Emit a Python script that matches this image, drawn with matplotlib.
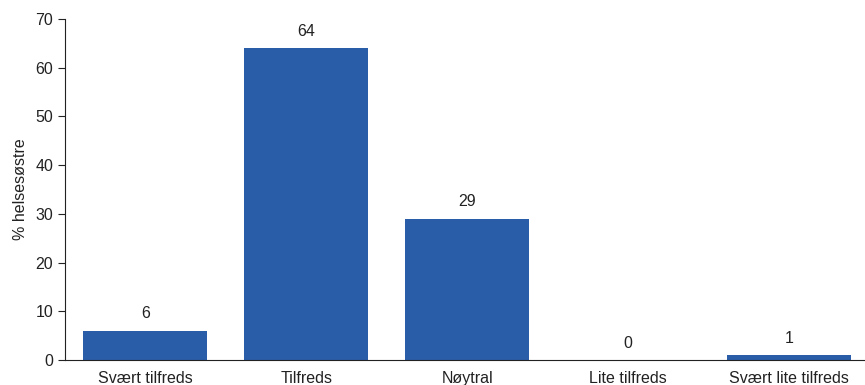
import matplotlib.pyplot as plt

plt.rcParams['font.family'] = ['Liberation Sans', 'DejaVu Sans']

categories = ["Svært tilfreds", "Tilfreds", "Nøytral", "Lite tilfreds", "Svært lite tilfreds"]
values = [6, 64, 29, 0, 1]

fig = plt.figure(figsize=(8.65, 3.85), dpi=100)
ax = fig.add_axes([0.075, 0.065, 0.93, 0.886])

x = range(len(categories))
bars = ax.bar(x, values, width=0.77, color="#2A5DA8")

for b, v in zip(bars, values):
    ax.text(b.get_x() + b.get_width() / 2, v + 1.9, str(v),
            ha="center", va="bottom", fontsize=11.5, color="#222222")

ax.set_xlim(-0.5, 4.5)
ax.set_ylim(0, 70)
ax.set_yticks(range(0, 71, 10))
ax.set_xticks(list(x))
ax.set_xticklabels(categories, fontsize=11.5)
ax.tick_params(axis="y", labelsize=11.5, length=5, direction="out", colors="#222222")
ax.tick_params(axis="x", length=0, pad=8, colors="#222222")
ax.set_ylabel("% helsesøstre", fontsize=11.5, color="#222222", labelpad=5)

ax.spines["top"].set_visible(False)
ax.spines["right"].set_visible(False)
ax.spines["left"].set_color("#222222")
ax.spines["bottom"].set_color("#222222")

fig.savefig("out.png", dpi=100)
